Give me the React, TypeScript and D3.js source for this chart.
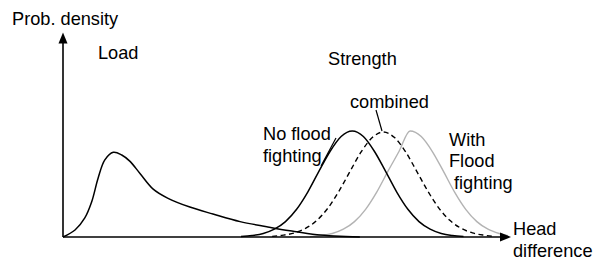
import React from 'react';
import * as d3 from 'd3';

// load curve (head difference, density)
const loadX = [0, 2.7, 4.9, 6.45, 7.9, 9.4, 11.3, 13.2, 15.0, 17.3, 20.2, 23.5, 28.5, 33.7, 39.8, 45.8, 51.0, 57.1, 66.7];
const loadY = [0, 3.4, 9.3, 17.2, 28.8, 37.6, 41.3, 40.0, 37.0, 31.0, 23.5, 19.0, 14.6, 11.2, 7.5, 5.0, 3.0, 1.1, 0];

// strength without flood fighting
const noFloodX = [40, 42.5, 45, 47.5, 50, 52.5, 55, 57.5, 60, 62.5, 65, 67.5, 70, 72.5, 75, 77.5, 80, 82.5, 85, 87.5, 90];
const noFloodY = [0.2, 0.7, 1.7, 3.8, 7.5, 13.5, 21.9, 32.0, 41.7, 49.0, 51.7, 49.0, 41.7, 32.0, 21.9, 13.5, 7.5, 3.8, 1.7, 0.7, 0.2];

// combined strength (dashed)
const combinedX = [47, 49.5, 52, 54.5, 57, 59.5, 62, 64.5, 67, 69.5, 72, 74.5, 77, 79.5, 82, 84.5, 87, 89.5, 92, 94.5, 97];
const combinedY = [0.3, 0.9, 2.0, 4.2, 8.0, 14.0, 22.3, 32.0, 41.5, 48.5, 51.2, 48.5, 41.5, 32.0, 22.3, 14.0, 8.0, 4.2, 2.0, 0.9, 0.3];

// strength with flood fighting
const withFloodX = [55.5, 58, 60.5, 63, 65.5, 68, 70.5, 73, 75.5, 78, 80.5, 83, 85.5, 88, 90.5, 93, 95.5, 98, 100];
const withFloodY = [0.2, 0.7, 1.7, 3.8, 7.5, 13.5, 21.9, 32.0, 41.7, 51.7, 49.0, 41.7, 32.0, 21.9, 13.5, 7.5, 3.8, 1.7, 0.6];

const labels = [
  { text: 'Prob. density', x: 12, y: 25 },
  { text: 'Load', x: 98, y: 59 },
  { text: 'Strength', x: 328, y: 65 },
  { text: 'combined', x: 350, y: 108 },
  { text: 'No flood', x: 263, y: 140 },
  { text: 'fighting', x: 263, y: 162 },
  { text: 'With', x: 449, y: 146 },
  { text: 'Flood', x: 449, y: 167 },
  { text: 'fighting', x: 454, y: 189 },
  { text: 'Head', x: 513, y: 235 },
  { text: 'difference', x: 513, y: 257 },
];

const W = 598;
const H = 262;

const App: React.FC = () => {
  const x = d3.scaleLinear().domain([0, 100]).range([63, 508]);
  const y = d3.scaleLinear().domain([0, 100]).range([237, 32]);

  const line = d3.line<[number, number]>()
    .x(d => x(d[0]))
    .y(d => y(d[1]))
    .curve(d3.curveMonotoneX);

  const loadLine = d3.line<[number, number]>()
    .x(d => x(d[0]))
    .y(d => y(d[1]))
    .curve(d3.curveCatmullRom.alpha(0.5));

  const zip = (xs: number[], ys: number[]) => xs.map((v, i) => [v, ys[i]] as [number, number]);

  // origin of the axes
  const ox = x(0);
  const oy = y(0);

  return (
    <svg width={W} height={H} style={{ position: 'absolute', left: 0, top: 0, background: '#fff' }}
      fontFamily="'Liberation Sans', Arial, sans-serif" fontSize={18.2}>
      <rect width={W} height={H} fill="#fff" />
      <path d={line(zip(withFloodX, withFloodY)) || ''} fill="none" stroke="#b3b3b3" strokeWidth={1.4} />
      <path d={line(zip(combinedX, combinedY)) || ''} fill="none" stroke="#000" strokeWidth={1.4} strokeDasharray="5,3.5" />
      <path d={line(zip(noFloodX, noFloodY)) || ''} fill="none" stroke="#000" strokeWidth={1.5} />
      <path d={loadLine(zip(loadX, loadY)) || ''} fill="none" stroke="#000" strokeWidth={1.5} />

      {/* axes with arrows */}
      <line x1={ox} y1={oy} x2={ox} y2={42} stroke="#000" strokeWidth={1.6} />
      <path d={`M${ox},32.5 L${ox - 4.5},43.5 L${ox + 4.5},43.5 Z`} fill="#000" />
      <line x1={ox} y1={oy} x2={501} y2={oy} stroke="#000" strokeWidth={1.6} />
      <path d={`M511,${oy} L500,${oy - 4.5} L500,${oy + 4.5} Z`} fill="#000" />

      {/* pointers */}
      <line x1={376} y1={110} x2={382} y2={131} stroke="#000" strokeWidth={1.2} />
      <line x1={321} y1={166} x2={336} y2={138} stroke="#000" strokeWidth={1.2} />

      {labels.map((l, i) => (
        <text key={i} x={l.x} y={l.y} fill="#000">{l.text}</text>
      ))}
    </svg>
  );
};

export default App;
